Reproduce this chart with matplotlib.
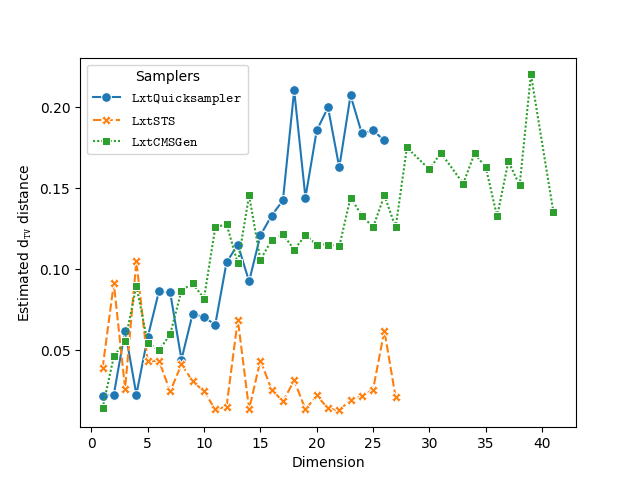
import numpy as np
import matplotlib
matplotlib.use("Agg")
import matplotlib.pyplot as plt

plt.rcParams["mathtext.fontset"] = "custom"
plt.rcParams["mathtext.rm"] = "DejaVu Sans"
plt.rcParams["mathtext.it"] = "DejaVu Sans:italic"
plt.rcParams["mathtext.bf"] = "DejaVu Sans:bold"
plt.rcParams["mathtext.tt"] = "cmtt10"

## Estimated TV distance for each sampler
quick_dims = list(range(1, 27))
quick_vals = [0.0216, 0.0228, 0.0623, 0.0228, 0.058, 0.0864, 0.0858, 0.0444,
              0.0728, 0.0704, 0.066, 0.1043, 0.1154, 0.0926, 0.121, 0.1333,
              0.1426, 0.2105, 0.1444, 0.1858, 0.200, 0.163, 0.2074, 0.184,
              0.1858, 0.1796]

sts_dims = list(range(1, 28))
sts_vals = [0.0389, 0.0914, 0.0265, 0.105, 0.0432, 0.0438, 0.0247, 0.0414,
            0.0309, 0.0247, 0.0136, 0.0154, 0.0691, 0.0136, 0.0438, 0.0259,
            0.0185, 0.0315, 0.0136, 0.0222, 0.0142, 0.013, 0.0197, 0.0216,
            0.0259, 0.0623, 0.021]

cms_dims = list(range(1, 29)) + [30, 31, 33, 34, 35, 36, 37, 38, 39, 41]
cms_vals = [0.0142, 0.0463, 0.0556, 0.090, 0.0549, 0.050, 0.0599, 0.087,
            0.0914, 0.082, 0.126, 0.128, 0.1037, 0.1457, 0.106, 0.118,
            0.1216, 0.1123, 0.121, 0.1154, 0.1154, 0.1142, 0.1444, 0.1333,
            0.126, 0.1457, 0.126, 0.1753, 0.1617, 0.172, 0.153, 0.1716,
            0.163, 0.1327, 0.1667, 0.1519, 0.2204, 0.1352]

samplers = ["LxtQuicksampler", "LxtSTS", "LxtCMSGen"]

fig, ax = plt.subplots(figsize=(6.4, 4.8), dpi=100)

ax.plot(quick_dims, quick_vals, color="#1f77b4", marker="o", markersize=7,
        markeredgecolor="w", markeredgewidth=0.75, linewidth=1.5,
        label=r"$\mathtt{%s}$" % samplers[0])
ax.plot(sts_dims, sts_vals, color="#ff7f0e", marker="X", markersize=7,
        markeredgecolor="w", markeredgewidth=0.75, linewidth=1.5,
        dashes=(4, 1.5), label=r"$\mathtt{%s}$" % samplers[1])
ax.plot(cms_dims, cms_vals, color="#2ca02c", marker="s", markersize=6,
        markeredgecolor="w", markeredgewidth=0.75, linewidth=1.5,
        dashes=(1, 1), label=r"$\mathtt{%s}$" % samplers[2])

ax.set_xlabel("Dimension")
ax.set_ylabel(r"Estimated $\mathrm{d}_{\mathtt{TV}}$ distance")
ax.legend(title="Samplers", loc="upper left")

fig.savefig("out.png", dpi=100)
